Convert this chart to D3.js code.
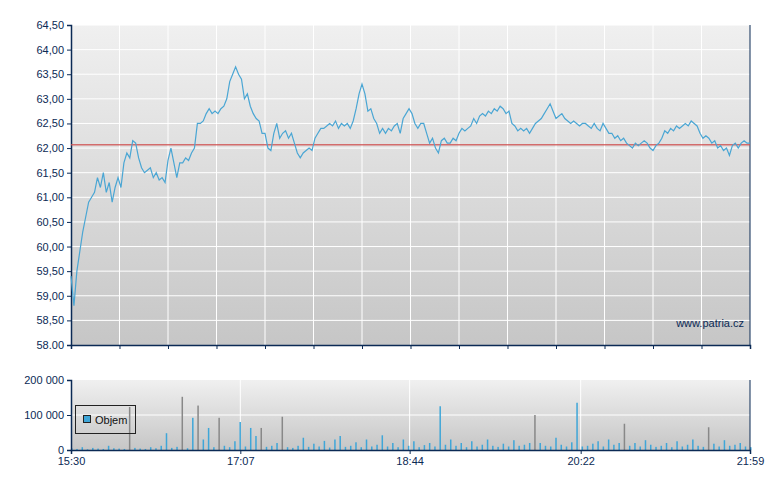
<!DOCTYPE html><html><head><meta charset="utf-8">
<script src="https://cdn.jsdelivr.net/npm/d3@7"></script>
<style>body{margin:0;background:#fff}text{font-family:"Liberation Sans",Arial,sans-serif}</style></head><body>
<svg id="c" width="780" height="490"></svg>
<script>
const prices=[59.4,58.8,59.5,59.9,60.3,60.6,60.9,61.0,61.1,61.4,61.2,61.5,61.1,61.3,60.9,61.2,61.4,61.2,61.7,61.9,61.8,62.15,62.1,61.8,61.6,61.5,61.55,61.6,61.4,61.5,61.35,61.4,61.3,61.75,62.0,61.7,61.4,61.7,61.7,61.8,61.75,61.9,62.0,62.5,62.5,62.55,62.7,62.8,62.7,62.75,62.7,62.8,62.85,63.0,63.35,63.5,63.65,63.5,63.4,63.0,63.1,62.85,62.7,62.6,62.55,62.3,62.3,62.0,61.95,62.3,62.5,62.2,62.3,62.35,62.2,62.3,62.1,61.9,61.8,61.9,61.95,62.0,61.95,62.2,62.3,62.4,62.4,62.45,62.5,62.45,62.55,62.4,62.5,62.45,62.5,62.4,62.55,62.8,63.1,63.3,63.1,62.75,62.8,62.6,62.5,62.3,62.4,62.3,62.4,62.35,62.45,62.5,62.3,62.6,62.7,62.8,62.7,62.5,62.4,62.5,62.5,62.3,62.1,62.2,62.0,61.9,62.15,62.2,62.1,62.1,62.2,62.15,62.3,62.4,62.35,62.4,62.45,62.6,62.5,62.65,62.7,62.65,62.75,62.7,62.8,62.75,62.85,62.8,62.7,62.75,62.5,62.45,62.35,62.4,62.35,62.4,62.3,62.4,62.5,62.55,62.6,62.7,62.8,62.9,62.75,62.6,62.65,62.7,62.6,62.55,62.5,62.55,62.5,62.45,62.5,62.5,62.45,62.4,62.5,62.4,62.35,62.5,62.4,62.3,62.3,62.2,62.25,62.15,62.2,62.1,62.05,62.0,62.1,62.05,62.1,62.15,62.1,62.0,61.95,62.05,62.1,62.2,62.35,62.3,62.4,62.35,62.45,62.4,62.45,62.5,62.45,62.55,62.5,62.45,62.3,62.2,62.25,62.2,62.1,62.15,62.0,62.05,61.95,62.0,61.85,62.05,62.1,62.0,62.1,62.15,62.1,62.1];
const volumes=[5000,3000,8000,2000,6000,4000,3000,12000,5000,4000,3000,123000,6000,4000,3000,8000,5000,12000,48000,6000,9000,152000,5000,92000,127000,30000,63000,8000,92000,12000,8000,25000,80000,10000,63000,40000,63000,9000,12000,20000,95000,8000,6000,12000,35000,9000,18000,10000,26000,7000,30000,40000,9000,12000,22000,8000,30000,10000,15000,42000,10000,20000,8000,30000,12000,25000,8000,14000,20000,10000,125000,15000,30000,12000,20000,8000,25000,10000,15000,30000,12000,9000,18000,10000,28000,12000,15000,20000,100000,20000,12000,10000,35000,15000,10000,22000,135000,10000,12000,18000,25000,10000,30000,15000,20000,75000,12000,20000,10000,28000,15000,9000,12000,20000,8000,25000,10000,15000,30000,12000,9000,65000,18000,10000,28000,12000,15000,20000,10000,8000];
const volGrey=[11,21,24,28,36,40,88,105,121];
const refPrice=62.07;
const priceTicks=[58,58.5,59,59.5,60,60.5,61,61.5,62,62.5,63,63.5,64,64.5];
const timeLabels=["15:30","17:07","18:44","20:22","21:59"];
const volTicks=[0,100000,200000];

const svg=d3.select("#c");
const L=71,R=750,T=25,B=345,VT=380,VB=450;
const defs=svg.append("defs");
const g1=defs.append("linearGradient").attr("id","bg").attr("x1",0).attr("x2",0).attr("y1",0).attr("y2",1);
g1.append("stop").attr("offset",0).attr("stop-color","#f0f0f0");g1.append("stop").attr("offset",1).attr("stop-color","#c6c6c6");
const t0=new Date(2020,0,1,15,30),t1=new Date(2020,0,1,21,59);
const x=d3.scaleTime().domain([t0,t1]).range([L,R]);
const y=d3.scaleLinear().domain([58,64.5]).range([B,T]);
svg.append("rect").attr("x",L).attr("y",T).attr("width",R-L).attr("height",B-T).attr("fill","url(#bg)");
svg.append("rect").attr("x",L).attr("y",VT).attr("width",R-L).attr("height",VB-VT).attr("fill","url(#bg)");
const gx=d3.range(15).map(i=>L+i*(R-L)/14);
svg.selectAll(".vg").data(gx.slice(1,-1)).enter().append("line").attr("x1",d=>d).attr("x2",d=>d).attr("y1",T).attr("y2",B).attr("stroke","#fff");
svg.selectAll(".hg").data(priceTicks.slice(1)).enter().append("line").attr("x1",L).attr("x2",R).attr("y1",d=>y(d)).attr("y2",d=>y(d)).attr("stroke","#fff");
const ya=svg.append("g").attr("transform",`translate(${L},0)`).call(d3.axisLeft(y).tickValues(priceTicks).tickSize(4).tickFormat(d=>d===58?"58.00":d3.format(".2f")(d).replace(".",",")));
const xa=svg.append("g").attr("transform",`translate(0,${B})`).call(d3.axisBottom(x).tickValues(gx.map(v=>x.invert(v))).tickSize(4).tickFormat(""));
svg.append("line").attr("x1",R).attr("x2",R).attr("y1",T).attr("y2",B).attr("stroke","#0b2a55");
// ref line
svg.append("line").attr("x1",L).attr("x2",R).attr("y1",y(refPrice)).attr("y2",y(refPrice)).attr("stroke","#d05050").attr("stroke-width",1.5).attr("opacity",0.8);
const px=d3.scaleLinear().domain([0,prices.length-1]).range([t0,t1]);
svg.append("path").datum(prices).attr("fill","none").attr("stroke","#4aa6d4").attr("stroke-width",1.2)
 .attr("d",d3.line().x((d,i)=>x(px(i))).y(d=>y(d)));
svg.append("text").attr("x",744).attr("y",327).attr("text-anchor","end").attr("font-size",11).attr("fill","#0b2a55").text("www.patria.cz");
// volume
const vy=d3.scaleLinear().domain([0,200000]).range([VB,VT]);
const tl=timeLabels.map(s=>{const [h,m]=s.split(":");return new Date(2020,0,1,+h,+m);});
svg.selectAll(".vvg").data(tl.slice(1,-1)).enter().append("line").attr("x1",d=>x(d)).attr("x2",d=>x(d)).attr("y1",VT).attr("y2",VB).attr("stroke","#fff");
svg.append("line").attr("x1",L).attr("x2",R).attr("y1",vy(100000)).attr("y2",vy(100000)).attr("stroke","#fff");
const vx=d3.scaleLinear().domain([0,volumes.length-1]).range([t0,t1]);
svg.selectAll(".vb").data(volumes).enter().append("rect").attr("x",(d,i)=>x(vx(i))).attr("width",1.5)
 .attr("y",d=>vy(d)).attr("height",d=>VB-vy(d)).attr("fill",(d,i)=>volGrey.includes(i)?"#888":"#3fa6d8");
svg.append("g").attr("transform",`translate(${L},0)`).call(d3.axisLeft(vy).tickValues(volTicks).tickSize(4).tickFormat(d=>d3.format(",")(d).replace(/,/g," ")));
svg.append("g").attr("transform",`translate(0,${VB})`).call(d3.axisBottom(x).tickValues(tl).tickSize(4).tickFormat(d3.timeFormat("%H:%M")));
svg.append("line").attr("x1",R).attr("x2",R).attr("y1",VT).attr("y2",VB).attr("stroke","#0b2a55");
svg.selectAll(".domain,.tick line").attr("stroke","#0b2a55");
svg.selectAll(".tick text").attr("fill","#0b2a55").attr("font-size",11);
svg.selectAll("path.domain").attr("stroke-width",1.5);
// legend
svg.append("rect").attr("x",75.5).attr("y",405.5).attr("width",60).attr("height",28).attr("fill","none").attr("stroke","#222");
svg.append("rect").attr("x",83.5).attr("y",415.5).attr("width",7).attr("height",7).attr("fill","#3fa6d8").attr("stroke","#222");
svg.append("text").attr("x",95).attr("y",423.5).attr("font-size",11).attr("fill","#111").text("Objem");
</script></body></html>
